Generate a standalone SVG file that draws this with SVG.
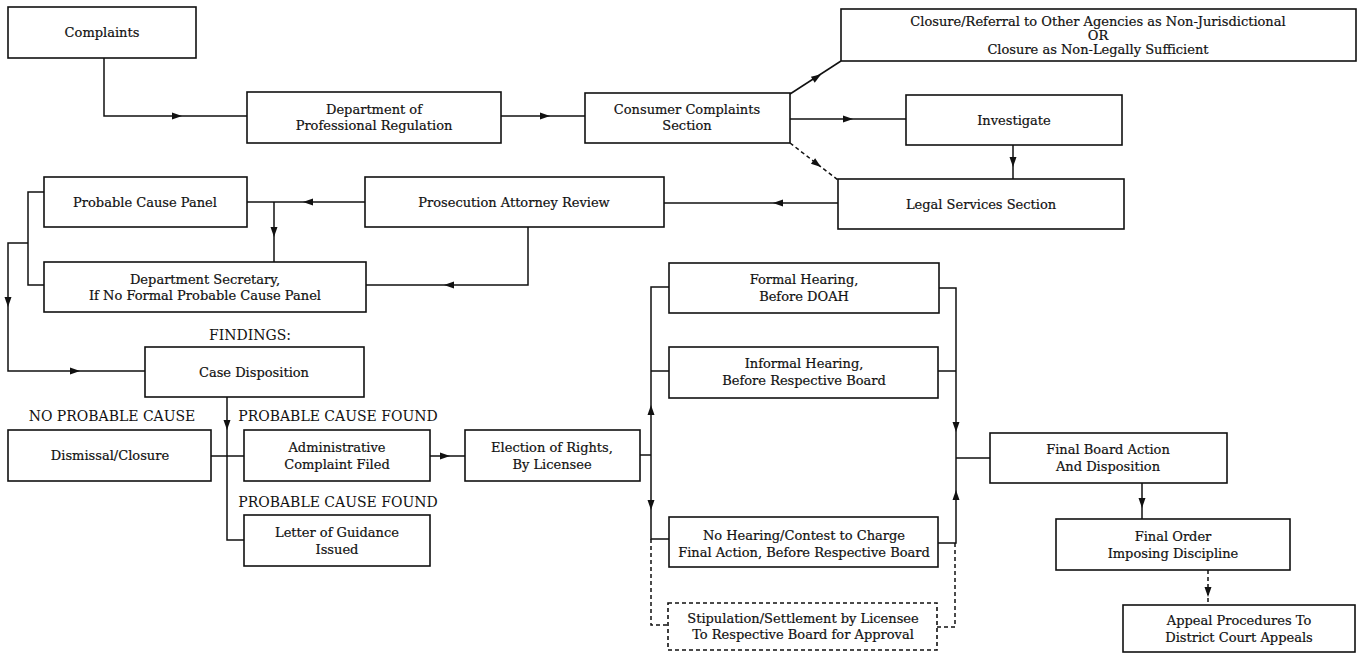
<svg xmlns="http://www.w3.org/2000/svg" xmlns:xlink="http://www.w3.org/1999/xlink" width="1365" height="654" viewBox="0 0 1365 654">
<style>
.b{fill:#fff;stroke:#111;stroke-width:1.6}
.d{fill:#fff;stroke:#111;stroke-width:1.6;stroke-dasharray:4 3}
.t{font-family:"DejaVu Serif","Liberation Serif",serif;font-size:13px;fill:#111;stroke:#111;stroke-width:0.2;text-anchor:middle}
.l{font-family:"DejaVu Serif","Liberation Serif",serif;font-size:14px;fill:#111;text-anchor:middle}
.c{fill:none;stroke:#111;stroke-width:1.5}
.cd{fill:none;stroke:#111;stroke-width:1.5;stroke-dasharray:4 3}
</style>
<defs>
<path id="ah" d="M5,0 L-5,-3.5 L-5,3.5 Z" fill="#111"/>
</defs>
<rect width="1365" height="654" fill="#fff"/>
<g id="connectors">
<path class="c" d="M104,58 V116 H247"/>
<path class="c" d="M501,116 H585"/>
<path class="c" d="M790,94 L841,61"/>
<path class="c" d="M790,119 H906"/>
<path class="cd" d="M790,143 L838,180"/>
<path class="c" d="M1013,145 V179"/>
<path class="c" d="M838,203 H664"/>
<path class="c" d="M365,202 H247"/>
<path class="c" d="M274,202 V262"/>
<path class="c" d="M528,227 V285 H366"/>
<path class="c" d="M44,192 H28 V285 H44 M28,243 H8 V371 H145"/>
<path class="c" d="M227,397 V540 H244"/>
<path class="c" d="M211,456 H244"/>
<path class="c" d="M430,456 H465"/>
<path class="c" d="M640,455 H651"/>
<path class="c" d="M669,287 H651 V539 H669 M651,371 H669"/>
<path class="cd" d="M651,539 V625 H668"/>
<path class="c" d="M939,288 H956 V543 H938 M938,371 H956 M956,458 H990"/>
<path class="cd" d="M937,627 H955 V543"/>
<path class="c" d="M1142,483 V519"/>
<path class="cd" d="M1208,570 V605"/>
<use xlink:href="#ah" transform="translate(177,116)"/>
<use xlink:href="#ah" transform="translate(545,116)"/>
<use xlink:href="#ah" transform="translate(817,77) rotate(-33)"/>
<use xlink:href="#ah" transform="translate(848,119)"/>
<use xlink:href="#ah" transform="translate(817,164) rotate(37.6)"/>
<use xlink:href="#ah" transform="translate(1013,162) rotate(90)"/>
<use xlink:href="#ah" transform="translate(778,203) rotate(180)"/>
<use xlink:href="#ah" transform="translate(308,202) rotate(180)"/>
<use xlink:href="#ah" transform="translate(274,232) rotate(90)"/>
<use xlink:href="#ah" transform="translate(449,285) rotate(180)"/>
<use xlink:href="#ah" transform="translate(8,302) rotate(90)"/>
<use xlink:href="#ah" transform="translate(75,371)"/>
<use xlink:href="#ah" transform="translate(227,425) rotate(90)"/>
<use xlink:href="#ah" transform="translate(445,456)"/>
<use xlink:href="#ah" transform="translate(651,410) rotate(-90)"/>
<use xlink:href="#ah" transform="translate(651,505) rotate(90)"/>
<use xlink:href="#ah" transform="translate(956,427) rotate(90)"/>
<use xlink:href="#ah" transform="translate(956,495) rotate(-90)"/>
<use xlink:href="#ah" transform="translate(1142,503) rotate(90)"/>
<use xlink:href="#ah" transform="translate(1208,592) rotate(90)"/>
</g>
<g id="complaints"><rect class="b" x="8" y="7" width="188" height="51"/><text class="t" x="102" y="37">Complaints</text></g>
<g id="dpr"><rect class="b" x="247" y="92" width="254" height="51"/><text class="t" x="374" y="114">Department of</text><text class="t" x="374" y="130">Professional Regulation</text></g>
<g id="ccs"><rect class="b" x="585" y="93" width="205" height="50"/><text class="t" x="687" y="114">Consumer Complaints</text><text class="t" x="687" y="130">Section</text></g>
<g id="closure"><rect class="b" x="841" y="9" width="515" height="52"/><text class="t" x="1098" y="26">Closure/Referral to Other Agencies as Non-Jurisdictional</text><text class="t" x="1098" y="40">OR</text><text class="t" x="1098" y="54">Closure as Non-Legally Sufficient</text></g>
<g id="investigate"><rect class="b" x="906" y="95" width="216" height="50"/><text class="t" x="1014" y="125">Investigate</text></g>
<g id="legal"><rect class="b" x="838" y="179" width="286" height="50"/><text class="t" x="981" y="209">Legal Services Section</text></g>
<g id="prosecution"><rect class="b" x="365" y="177" width="299" height="50"/><text class="t" x="514" y="207">Prosecution Attorney Review</text></g>
<g id="pcp"><rect class="b" x="44" y="177" width="203" height="50"/><text class="t" x="145" y="207">Probable Cause Panel</text></g>
<g id="deptsec"><rect class="b" x="44" y="262" width="322" height="50"/><text class="t" x="205" y="284">Department Secretary,</text><text class="t" x="205" y="300">If No Formal Probable Cause Panel</text></g>
<g id="casedisp"><text class="l" x="250" y="340">FINDINGS:</text><rect class="b" x="145" y="347" width="219" height="50"/><text class="t" x="254" y="377">Case Disposition</text></g>
<g id="dismissal"><text class="l" x="112" y="421">NO PROBABLE CAUSE</text><rect class="b" x="8" y="430" width="203" height="51"/><text class="t" x="110" y="460">Dismissal/Closure</text></g>
<g id="admin"><text class="l" x="338" y="421">PROBABLE CAUSE FOUND</text><rect class="b" x="244" y="430" width="186" height="51"/><text class="t" x="337" y="452">Administrative</text><text class="t" x="337" y="469">Complaint Filed</text></g>
<g id="election"><rect class="b" x="465" y="430" width="175" height="51"/><text class="t" x="552" y="452">Election of Rights,</text><text class="t" x="552" y="469">By Licensee</text></g>
<g id="letter"><text class="l" x="338" y="507">PROBABLE CAUSE FOUND</text><rect class="b" x="244" y="515" width="186" height="51"/><text class="t" x="337" y="537">Letter of Guidance</text><text class="t" x="337" y="554">Issued</text></g>
<g id="formal"><rect class="b" x="669" y="263" width="270" height="50"/><text class="t" x="804" y="284">Formal Hearing,</text><text class="t" x="804" y="301">Before DOAH</text></g>
<g id="informal"><rect class="b" x="669" y="347" width="269" height="51"/><text class="t" x="804" y="368">Informal Hearing,</text><text class="t" x="804" y="385">Before Respective Board</text></g>
<g id="nohearing"><rect class="b" x="669" y="517" width="269" height="50"/><text class="t" x="804" y="540">No Hearing/Contest to Charge</text><text class="t" x="804" y="557">Final Action, Before Respective Board</text></g>
<g id="stipulation"><rect class="d" x="668" y="603" width="269" height="47"/><text class="t" x="803" y="623">Stipulation/Settlement by Licensee</text><text class="t" x="803" y="639">To Respective Board for Approval</text></g>
<g id="finalboard"><rect class="b" x="990" y="433" width="237" height="50"/><text class="t" x="1108" y="454">Final Board Action</text><text class="t" x="1108" y="471">And Disposition</text></g>
<g id="finalorder"><rect class="b" x="1056" y="519" width="234" height="51"/><text class="t" x="1173" y="541">Final Order</text><text class="t" x="1173" y="558">Imposing Discipline</text></g>
<g id="appeal"><rect class="b" x="1123" y="605" width="232" height="47"/><text class="t" x="1239" y="625">Appeal Procedures To</text><text class="t" x="1239" y="642">District Court Appeals</text></g>
</svg>
